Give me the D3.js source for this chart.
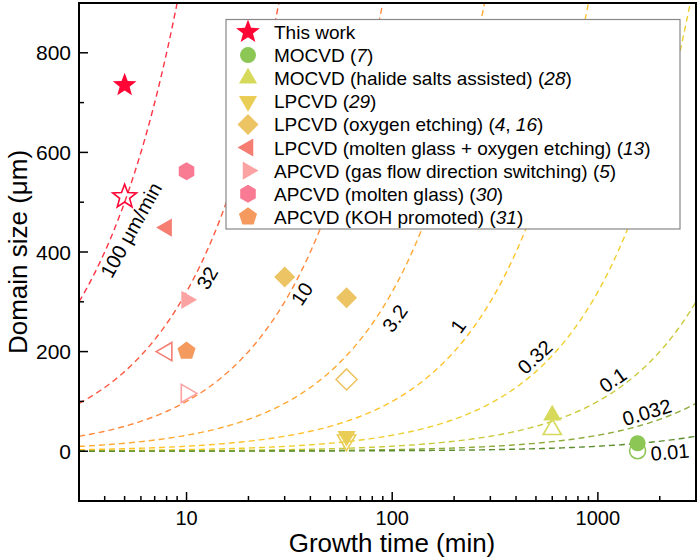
<!DOCTYPE html>
<html><head><meta charset="utf-8">
<script src="https://cdn.jsdelivr.net/npm/d3@7"></script>
<style>body{margin:0;background:#fff}svg text{font-family:"Liberation Sans",Arial,sans-serif;fill:#000}</style>
</head><body><svg id="c" width="700" height="560"></svg>
<script>
// ---------------- data ----------------
const seriesNames = ["This work","MOCVD","MOCVD (halide salts assisted)","LPCVD","LPCVD (oxygen etching)","LPCVD (molten glass + oxygen etching)","APCVD (gas flow direction switching)","APCVD (molten glass)","APCVD (KOH promoted)"];
const seriesRefs = [[],["7"],["28"],["29"],["4","16"],["13"],["5"],["30"],["31"]];
const seriesShapes = ["star","circle","triUp","triDown","diamond","triLeft","triRight","hexagon","pentagon"];
const seriesColors = ["#FF0536","#8CC654","#D6D95A","#EACD55","#EDC463","#F57D72","#FBA3A2","#F87A93","#F59A5E"];

const pointSeries = [0,0,1,1,2,2,3,3,4,4,4,5,5,6,6,7,8];
const pointTime   = [5,5,1560,1560,600,600,60,60,30,60,60,8,8,10,10,10,10];
const pointSize   = [735,511,16,1,72,44,30,22,350,308,144,449,200,304,116,562,201];
const pointFilled = [1,0,1,0,1,0,1,0,1,1,0,1,0,1,0,1,1];

const rateValues = [100,32,10,3.2,1,0.32,0.1,0.032,0.01];
const rateLabels = ["100 μm/min","32","10","3.2","1","0.32","0.1","0.032","0.01"];
const rateColors = ["#FF3344","#FF5A40","#FF8A40","#FFAA35","#FFC42C","#F0D030","#CACA3C","#8EAB3C","#5C8E30"];

const xTickValues = [10,100,1000];
const yTickValues = [0,200,400,600,800];

// ---------------- layout ----------------
const L = 79, R = 696, T = 3, B = 501;
const svg = d3.select("#c");
const x = d3.scaleLog().domain([3,3000]).range([L,R]);
const y = d3.scaleLinear().domain([-100,900]).range([B,T]);

svg.append("defs").append("clipPath").attr("id","clip")
  .append("rect").attr("x",L).attr("y",T).attr("width",R-L).attr("height",B-T);

// rate (isochrone) curves: size = rate * time
const tGrid = d3.range(0,301).map(i => 3*Math.pow(1000, i/300));
const line = d3.line().x(d => x(d[0])).y(d => y(d[1]));
const curves = svg.append("g").attr("clip-path","url(#clip)");
rateValues.forEach((r,i) => {
  curves.append("path")
    .attr("d", line(tGrid.map(t => [t, r*t])))
    .attr("fill","none").attr("stroke",rateColors[i])
    .attr("stroke-width",1.4).attr("stroke-dasharray","6,4");
});

// curve labels (placement)
const labelLayout = [
  {t:5.37, v:444, a:-61},
  {t:12.6, v:348, a:-60},
  {t:36.4, v:316, a:-56},
  {t:103,  v:267, a:-55},
  {t:209,  v:251, a:-54},
  {t:494,  v:189, a:-43},
  {t:1183, v:143, a:-35},
  {t:1731, v:78,  a:-17},
  {t:2241, v:-2,  a:-5}
];
rateLabels.forEach((s,i) => {
  const p = labelLayout[i];
  svg.append("text")
    .attr("transform",`translate(${x(p.t)},${y(p.v)}) rotate(${p.a})`)
    .attr("text-anchor","middle").attr("dominant-baseline","central")
    .style("font-size","20px").text(s);
});

// symbol generator
function polyPath(n, r, rot){
  const pts = d3.range(n).map(k => {
    const a = rot + k*2*Math.PI/n;
    return [r*Math.sin(a), -r*Math.cos(a)];
  });
  return "M" + pts.map(p => p[0].toFixed(2)+","+p[1].toFixed(2)).join("L") + "Z";
}
function starPath(r){
  const ri = r*0.42;
  const pts = d3.range(10).map(k => {
    const a = k*Math.PI/5, rr = k%2 ? ri : r;
    return [rr*Math.sin(a), -rr*Math.cos(a)];
  });
  return "M" + pts.map(p => p[0].toFixed(2)+","+p[1].toFixed(2)).join("L") + "Z";
}
function shapePath(shape){
  switch(shape){
    case "star": return starPath(12.5);
    case "circle": return d3.symbol(d3.symbolCircle, Math.PI*8*8)();
    case "triUp": return polyPath(3, 10.5, 0);
    case "triDown": return polyPath(3, 10.5, Math.PI);
    case "triLeft": return polyPath(3, 10.5, -Math.PI/2);
    case "triRight": return polyPath(3, 10.5, Math.PI/2);
    case "diamond": return polyPath(4, 10.5, 0);
    case "hexagon": return polyPath(6, 9, 0);
    case "pentagon": return polyPath(5, 9.5, 0);
  }
}

// points
const pts = svg.append("g");
pointSeries.forEach((s,i) => {
  const c = seriesColors[s];
  const filled = pointFilled[i] === 1;
  pts.append("path")
    .attr("d", shapePath(seriesShapes[s]))
    .attr("transform",`translate(${x(pointTime[i])},${y(pointSize[i])})`)
    .attr("fill", filled ? c : "none")
    .attr("stroke", filled ? "none" : c)
    .attr("stroke-width", 1.6);
});

// axes
const frame = svg.append("g");
frame.append("rect").attr("x",L).attr("y",T).attr("width",R-L).attr("height",B-T)
  .attr("fill","none").attr("stroke","#000").attr("stroke-width",2);

const xMinor = [];
[1,10,100,1000].forEach(d => d3.range(2,10).forEach(m => { const v=d*m; if(v>3 && v<3000) xMinor.push(v); }));
xMinor.forEach(v => frame.append("line").attr("x1",x(v)).attr("x2",x(v)).attr("y1",B).attr("y2",B-5).attr("stroke","#000").attr("stroke-width",1.5));
xTickValues.forEach(v => {
  frame.append("line").attr("x1",x(v)).attr("x2",x(v)).attr("y1",B).attr("y2",B-9).attr("stroke","#000").attr("stroke-width",1.5);
  svg.append("text").attr("x",x(v)).attr("y",525).attr("text-anchor","middle").style("font-size","20px").text(v);
});
d3.range(-100,901,100).filter(v => v%200 !== 0 && v>-100 && v<900).forEach(v =>
  frame.append("line").attr("x1",L).attr("x2",L+5).attr("y1",y(v)).attr("y2",y(v)).attr("stroke","#000").attr("stroke-width",1.5));
yTickValues.forEach(v => {
  frame.append("line").attr("x1",L).attr("x2",L+9).attr("y1",y(v)).attr("y2",y(v)).attr("stroke","#000").attr("stroke-width",1.5);
  svg.append("text").attr("x",71).attr("y",y(v)).attr("text-anchor","end").attr("dominant-baseline","central").style("font-size","21px").text(v);
});

// axis titles
svg.append("text").attr("x",392).attr("y",552).attr("text-anchor","middle").style("font-size","26px").text("Growth time (min)");
svg.append("text").attr("transform","translate(27,252) rotate(-90)").attr("text-anchor","middle").style("font-size","26px").text("Domain size (μm)");

// legend
const lg = svg.append("g");
lg.append("rect").attr("x",226).attr("y",19.5).attr("width",454).attr("height",209.5)
  .attr("fill","#fff").attr("stroke","#888").attr("stroke-width",1.2);
seriesNames.forEach((n,i) => {
  const yy = 32 + i*23.1;
  lg.append("path").attr("d", shapePath(seriesShapes[i]))
    .attr("transform",`translate(248,${yy})`).attr("fill",seriesColors[i]);
  const t = lg.append("text").attr("x",274).attr("y",yy).attr("dominant-baseline","central").style("font-size","19px");
  t.append("tspan").text(n);
  const refs = seriesRefs[i];
  if(refs.length){
    t.append("tspan").text(" (");
    refs.forEach((r,k) => {
      if(k>0) t.append("tspan").text(", ");
      t.append("tspan").style("font-style","italic").text(r);
    });
    t.append("tspan").text(")");
  }
});
</script></body></html>
